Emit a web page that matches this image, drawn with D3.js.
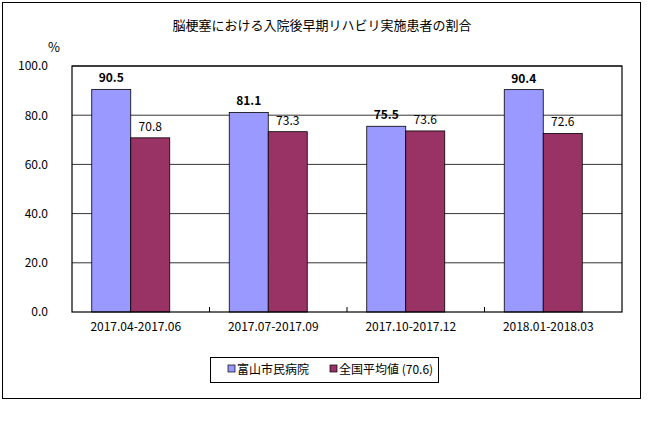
<!DOCTYPE html>
<html><head><meta charset="utf-8">
<script src="https://cdn.jsdelivr.net/npm/d3@7"></script>
<style>body{margin:0;background:#fff}text{font-family:"Noto Sans CJK JP",sans-serif}</style>
</head><body><svg id="c" width="648" height="445"></svg>
<script>
const categories=["2017.04-2017.06","2017.07-2017.09","2017.10-2017.12","2018.01-2018.03"];
const hospital=[90.5,81.1,75.5,90.4];
const national=[70.8,73.3,73.6,72.6];
const yTicks=[0,20,40,60,80,100];
const seriesNames=["富山市民病院","全国平均値 (70.6)"];
const colors=["#9999ff","#993366"];
const svg=d3.select("#c");
svg.append("rect").attr("x",2.5).attr("y",2.5).attr("width",638).attr("height",396).attr("fill","#fff").attr("stroke","#000");
svg.append("text").attr("x",322).attr("y",30).attr("text-anchor","middle").attr("font-size",13).text("脳梗塞における入院後早期リハビリ実施患者の割合");
const L=72,R=622,T=66,B=312;
const x=d3.scaleBand().domain(categories).range([L,R]);
const y=d3.scaleLinear().domain([0,100]).range([B,T]);
const g=svg.append("g");
g.selectAll(".gl").data(yTicks.slice(1)).join("line").attr("x1",L).attr("x2",R).attr("y1",d=>y(d)).attr("y2",d=>y(d)).attr("stroke","#000").attr("stroke-width",0.8);
const bw=39, off=-10;
[hospital,national].forEach((s,i)=>{
  g.selectAll(".b"+i).data(s).join("rect").attr("x",(d,j)=>x(categories[j])+x.bandwidth()/2+off-bw+i*bw).attr("y",d=>y(d)).attr("width",bw).attr("height",d=>B-y(d)).attr("fill",colors[i]).attr("stroke","#000").attr("stroke-width",0.8);
  g.selectAll(".l"+i).data(s).join("text").attr("x",(d,j)=>x(categories[j])+x.bandwidth()/2+off-bw/2+i*bw).attr("y",d=>y(d)-7).attr("text-anchor","middle").attr("font-size",12).attr("font-weight",i==0?"bold":"normal").attr("font-family","Liberation Sans, sans-serif").text(d=>d.toFixed(1));
});
svg.append("rect").attr("x",L).attr("y",T).attr("width",R-L).attr("height",B-T).attr("fill","none").attr("stroke","#000").attr("stroke-width",1.2);
const ya=svg.append("g").attr("transform",`translate(${L},0)`).call(d3.axisLeft(y).tickValues(yTicks).tickFormat(d3.format(".1f")).tickSize(0).tickPadding(24));
ya.select(".domain").remove();ya.selectAll("text").attr("font-size",12).attr("font-family","Liberation Sans, sans-serif");
const xa=svg.append("g").attr("transform",`translate(${off/2},${B})`).call(d3.axisBottom(x).tickSize(0).tickPadding(10));
xa.select(".domain").remove();xa.selectAll("text").attr("font-size",12).attr("font-family","Liberation Sans, sans-serif");
svg.selectAll(".tk").data(categories.slice(1)).join("line").attr("x1",d=>x(d)).attr("x2",d=>x(d)).attr("y1",B).attr("y2",B-5).attr("stroke","#000");
svg.append("text").attr("x",48).attr("y",52).attr("font-size",13).text("%");
svg.append("rect").attr("x",210.5).attr("y",357.5).attr("width",228).attr("height",25).attr("fill","#fff").attr("stroke","#000");
const lx=[228,330];
seriesNames.forEach((n,i)=>{
  svg.append("rect").attr("x",lx[i]).attr("y",365).attr("width",7).attr("height",7).attr("fill",colors[i]).attr("stroke","#000").attr("stroke-width",0.7);
  svg.append("text").attr("x",lx[i]+9).attr("y",374).attr("font-size",12).text(n);
});
</script></body></html>
